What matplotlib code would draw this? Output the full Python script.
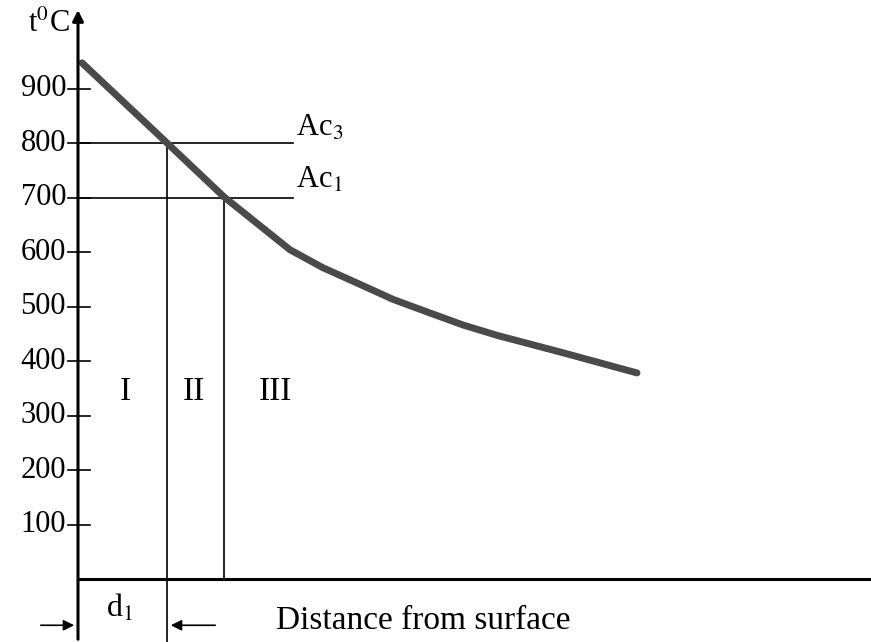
import matplotlib.pyplot as plt

plt.rcParams['font.family'] = 'Liberation Serif'
plt.rcParams['mathtext.fontset'] = 'stix'

# temperature profile (distance in arbitrary units from the surface)
depth = [0.4, 8.9, 14.6, 21.2, 24.5, 27.9, 31.5, 35.2, 38.5, 41.9, 45.2, 48.5, 51.9, 55.9]
temp = [948, 801, 702, 605, 572, 544, 514, 489, 467, 448, 432, 416, 399, 379]

ticks = [100, 200, 300, 400, 500, 600, 700, 800, 900]
ac3, ac1 = 800, 700
d_ac3, d_ac1 = 8.9, 14.6
line_end = 21.5
zones = ['I', 'II', 'III']
zone_x = [4.7, 11.6, 19.7]
zone_y = 344

fig = plt.figure(figsize=(8.71, 6.42), dpi=100)
ax = fig.add_axes([0, 0, 1, 1])
ax.set_xlim(-7.8, 79.3)
ax.set_ylim(-114.7, 1063.3)
ax.axis('off')

# axes
ax.annotate('', xy=(0, 1050), xytext=(0, -114.7),
            arrowprops=dict(arrowstyle='-|>', lw=2.2, color='k', mutation_scale=16))
ax.plot([0, 79.3], [0, 0], color='k', lw=2.2)

for t in ticks:
    ax.plot([-1.0, 1.2], [t, t], color='k', lw=1.2)
    ax.text(-1.2, t, str(t), ha='right', va='center', fontsize=22)
ax.text(-0.8, 1018, r't$^0$C', ha='right', va='center', fontsize=22)

# critical temperatures
ax.plot([0, line_end], [ac3, ac3], color='k', lw=1.2)
ax.plot([0, line_end], [ac1, ac1], color='k', lw=1.2)
ax.text(line_end + 0.3, ac3 + 28, r'Ac$_3$', ha='left', va='center', fontsize=22)
ax.text(line_end + 0.3, ac1 + 32, r'Ac$_1$', ha='left', va='center', fontsize=22)

ax.plot([d_ac3, d_ac3], [ac3, -114.7], color='k', lw=1.2)
ax.plot([d_ac1, d_ac1], [ac1, 0], color='k', lw=1.2)

ax.plot(depth, temp, color='#4a4a4a', lw=5, solid_capstyle='round',
        solid_joinstyle='round')

for z, zx in zip(zones, zone_x):
    ax.text(zx, zone_y, z, ha='center', va='center', fontsize=24)

# d1 marker
ax.text(4.2, -52, r'd$_1$', ha='center', va='center', fontsize=23)
ax.annotate('', xy=(-0.1, -84), xytext=(-4.0, -84),
            arrowprops=dict(arrowstyle='-|>', lw=1.2, color='k', mutation_scale=16))
ax.annotate('', xy=(d_ac3 + 0.1, -84), xytext=(d_ac3 + 5.1, -84),
            arrowprops=dict(arrowstyle='-|>', lw=1.2, color='k', mutation_scale=16))
ax.text(34.5, -75, 'Distance from surface', ha='center', va='center', fontsize=24)

fig.savefig('out.png', dpi=100)
